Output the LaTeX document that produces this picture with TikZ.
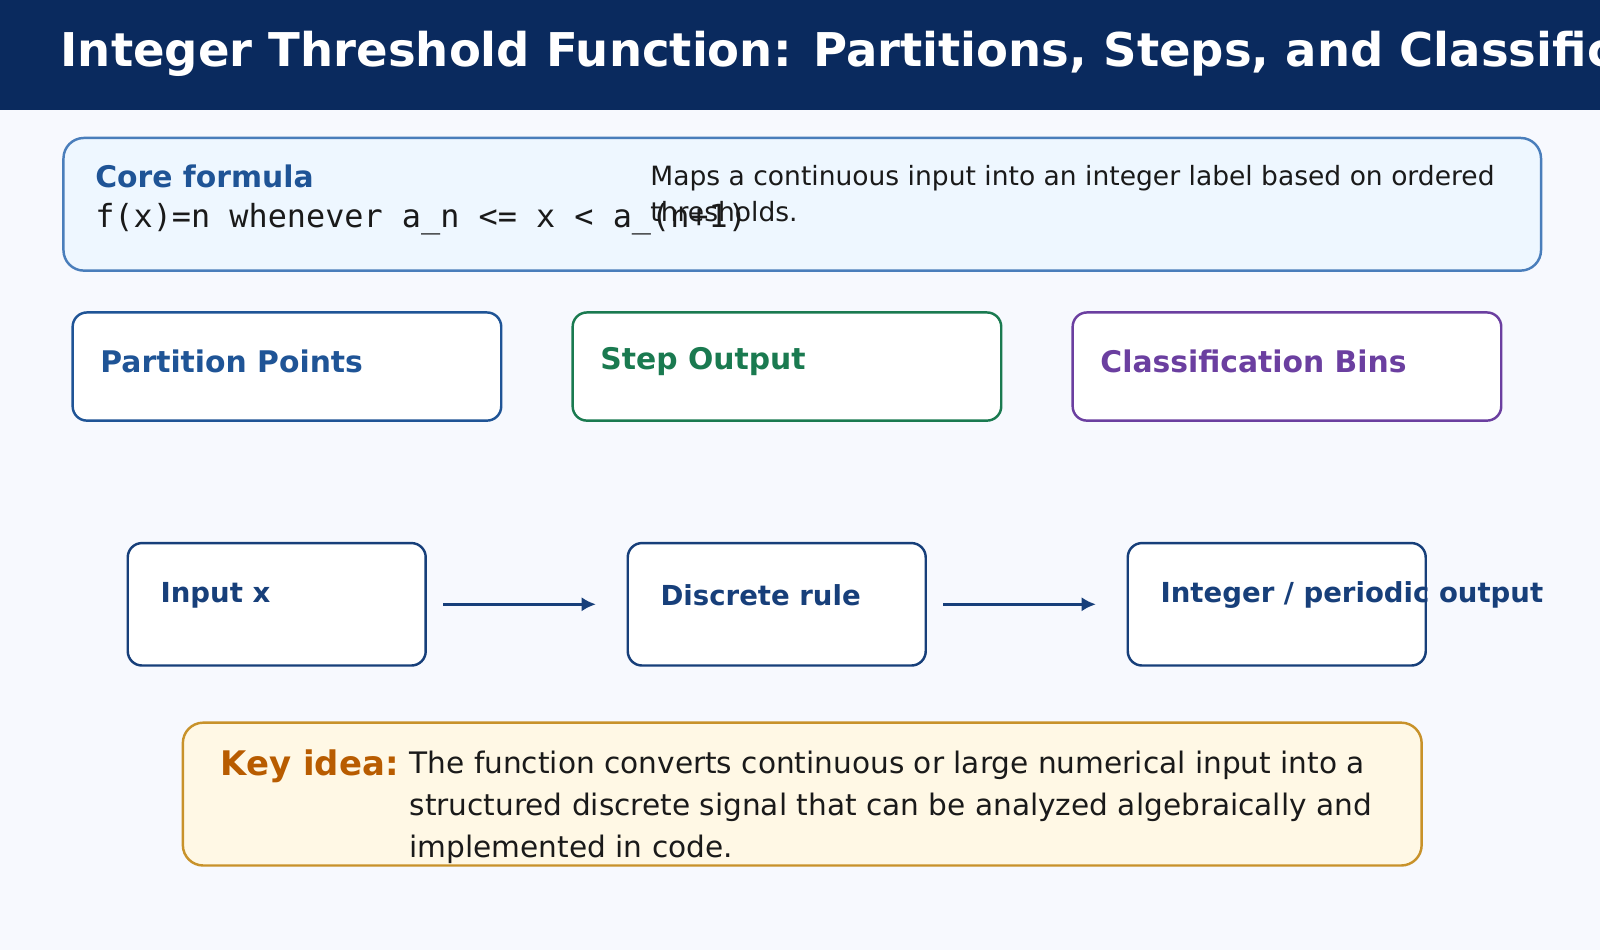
\documentclass[tikz,border=0pt]{standalone}
\usepackage{fontspec}
\setmainfont{DejaVu Sans}
\setsansfont{DejaVu Sans}
\setmonofont{DejaVu Sans Mono}
\usetikzlibrary{positioning}
\usetikzlibrary{arrows.meta}
\definecolor{navy}{HTML}{0A2A5E}
\definecolor{pagebg}{HTML}{F7F9FE}
\definecolor{corefill}{HTML}{EEF7FF}
\definecolor{coreline}{HTML}{4A7EBB}
\definecolor{cblue}{HTML}{1F5496}
\definecolor{cgreen}{HTML}{1A7A50}
\definecolor{cpurple}{HTML}{6B3FA0}
\definecolor{flowline}{HTML}{173F7A}
\definecolor{keyfill}{HTML}{FFF8E5}
\definecolor{keyline}{HTML}{C8922A}
\definecolor{keytext}{HTML}{B85C00}
\definecolor{ink}{HTML}{1A1A1A}
\tikzset{
  card/.style={draw=#1, line width=1.2pt, fill=white, rounded corners=7pt, anchor=north west,
    minimum width=210pt, minimum height=53pt, inner sep=0pt},
  cardtitle/.style={anchor=west, font=\fontsize{14.6}{17}\selectfont\bfseries, text=#1, inner sep=0pt},
  flowbox/.style={draw=flowline, line width=1.2pt, fill=white, rounded corners=7pt, anchor=north west,
    minimum width=146pt, minimum height=60pt, inner sep=0pt},
  flowtext/.style={anchor=west, font=\fontsize{13.5}{16}\selectfont\bfseries, text=flowline, inner sep=0pt},
  flowarrow/.style={-{Latex[length=7pt,width=7pt]}, line width=1.5pt, draw=flowline,
    shorten <=8pt, shorten >=15pt}
}
\begin{document}
\begin{tikzpicture}[x=0.5pt, y=-0.5pt]
\useasboundingbox (0,0) rectangle (1568,931);
\clip (0,0) rectangle (1568,931);
\fill[pagebg] (0,0) rectangle (1568,931);

% header
\fill[navy] (0,0) rectangle (1568,108);
\node[anchor=west, text=white, font=\fontsize{22.8}{26}\selectfont\bfseries, inner sep=0pt]
  (title) at (59,53) {Integer Threshold Function: Partitions, Steps, and Classification};

% core formula panel
\node[draw=coreline, line width=1.2pt, fill=corefill, rounded corners=10pt, anchor=north west,
  minimum width=724pt, minimum height=65pt, inner sep=0pt] (core) at (61,134) {};
\node[anchor=west, text=cblue, font=\fontsize{14.6}{17}\selectfont\bfseries, inner sep=0pt]
  (corelbl) at (93,173) {Core formula};
\node[anchor=west, text=ink, font=\ttfamily\fontsize{15.6}{18}\selectfont, inner sep=0pt]
  (corefx) at (93,215) {f(x)=n whenever a\_n <= x < a\_(n+1)};
\node[anchor=north west, text=ink, font=\fontsize{13}{17.5}\selectfont, align=left, inner sep=0pt]
  (coredesc) at (637,162) {Maps a continuous input into an integer label based on ordered\\thresholds.};

% three cards
\node[card=cblue] (partbox) at (70,305) {};
\node[cardtitle=cblue] (partlbl) at (98,354) {Partition Points};
\node[card=cgreen] (stepbox) at (560,305) {};
\node[cardtitle=cgreen] (steplbl) at (588,354) {Step Output};
\node[card=cpurple] (binbox) at (1050,305) {};
\node[cardtitle=cpurple] (binlbl) at (1078,354) {Classification Bins};

% flow
\node[flowbox] (inbox) at (124,531) {};
\node[flowtext] at (157,583) {Input x};
\node[flowbox] (rulebox) at (614,531) {};
\node[flowtext] at (647,583) {Discrete rule};
\node[flowbox] (outbox) at (1104,531) {};
\node[flowtext] at (1137,583) {Integer / periodic output};
\draw[flowarrow] (inbox.east) -- (rulebox.west);
\draw[flowarrow] (rulebox.east) -- (outbox.west);

% key idea
\node[draw=keyline, line width=1.2pt, fill=keyfill, rounded corners=10pt, anchor=north west,
  minimum width=607pt, minimum height=70pt, inner sep=0pt] (keybox) at (178,707) {};
\node[anchor=west, text=keytext, font=\fontsize{16.6}{19}\selectfont\bfseries, inner sep=0pt]
  (keylbl) at (216,751) {Key idea:};
\node[anchor=north west, text=ink, font=\fontsize{14.5}{20.5}\selectfont, align=left, inner sep=0pt]
  (keytxt) at (401,736) {The function converts continuous or large numerical input into a\\
  structured discrete signal that can be analyzed algebraically and\\implemented in code.};
\end{tikzpicture}
\end{document}
